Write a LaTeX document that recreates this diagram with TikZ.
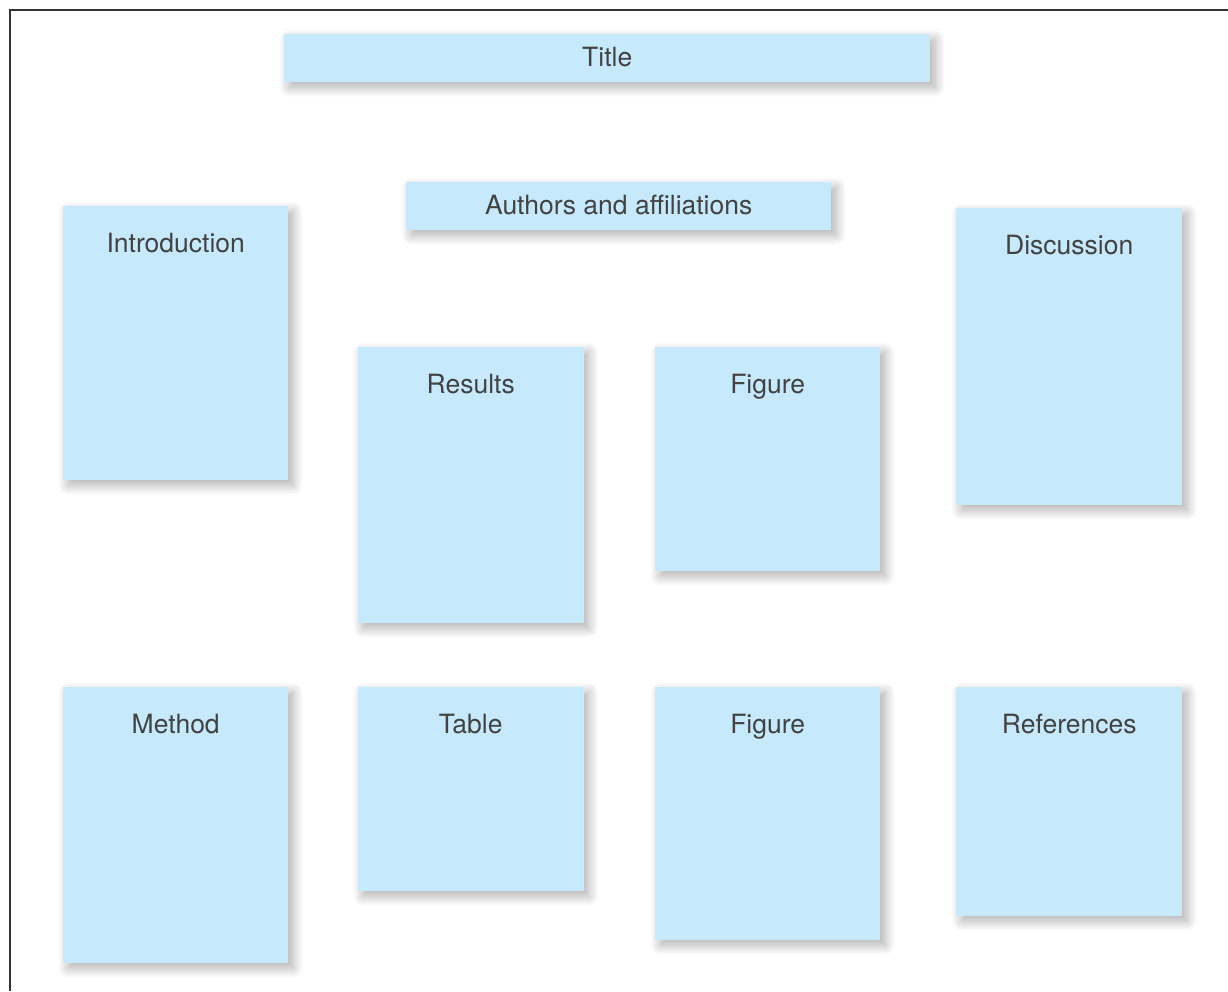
\documentclass[tikz,border=0pt]{standalone}
\usepackage{fontspec}
\setmainfont{TeX Gyre Heros}
\usetikzlibrary{shadows.blur}
\definecolor{panelblue}{HTML}{C6E9FC}
\definecolor{inkgray}{HTML}{424242}
\definecolor{framegray}{HTML}{333333}
\begin{document}
\begin{tikzpicture}[x=1pt,y=-1pt,
  panel/.style={rectangle, fill=panelblue, draw=none, inner sep=0pt, anchor=north west,
    blur shadow={shadow xshift=5pt, shadow yshift=-5pt, shadow blur radius=10pt,
                 shadow opacity=32, shadow blur steps=16}},
  lbl/.style={inner sep=0pt, text=inkgray, font=\fontsize{26.5}{30}\selectfont},
  toplbl/.style={lbl, anchor=base}
]
\useasboundingbox (0,0) rectangle (1228,991);
% page frame, cropped at the right and bottom
\coordinate (fbl) at (9.5,991);
\coordinate (ftl) at (9.5,9.5);
\coordinate (ftr) at (1228,9.5);
\draw[framegray, line width=2pt] (fbl) -- (ftl) -- (ftr);

% heading strips
\node[panel, minimum width=646pt, minimum height=48pt] (title) at (284,34) {};
\node[lbl] (titlelbl) at ([yshift=1pt]title.center) {Title};
\node[panel, minimum width=425pt, minimum height=48pt] (authors) at (406,182) {};
\node[lbl] (authorslbl) at ([yshift=1pt]authors.center) {Authors and affiliations};

% content panels
\node[panel, minimum width=225pt, minimum height=274pt] (intro) at (63,206) {};
\node[toplbl] (introlbl) at ([yshift=-46.5pt]intro.north) {Introduction};

\node[panel, minimum width=226pt, minimum height=297pt] (disc) at (956,208) {};
\node[toplbl] (disclbl) at ([yshift=-46.5pt]disc.north) {Discussion};

\node[panel, minimum width=226pt, minimum height=276pt] (results) at (357.5,347) {};
\node[toplbl] (resultslbl) at ([yshift=-46.5pt]results.north) {Results};

\node[panel, minimum width=225pt, minimum height=224pt] (figa) at (655,347) {};
\node[toplbl] (figalbl) at ([yshift=-46.5pt]figa.north) {Figure};

\node[panel, minimum width=225pt, minimum height=276pt] (method) at (63,687) {};
\node[toplbl] (methodlbl) at ([yshift=-46.5pt]method.north) {Method};

\node[panel, minimum width=226pt, minimum height=204pt] (table) at (357.5,687) {};
\node[toplbl] (tablelbl) at ([yshift=-46.5pt]table.north) {Table};

\node[panel, minimum width=225pt, minimum height=253pt] (figb) at (655,687) {};
\node[toplbl] (figblbl) at ([yshift=-46.5pt]figb.north) {Figure};

\node[panel, minimum width=226pt, minimum height=229pt] (refs) at (956,687) {};
\node[toplbl] (refslbl) at ([yshift=-46.5pt]refs.north) {References};
\end{tikzpicture}
\end{document}
